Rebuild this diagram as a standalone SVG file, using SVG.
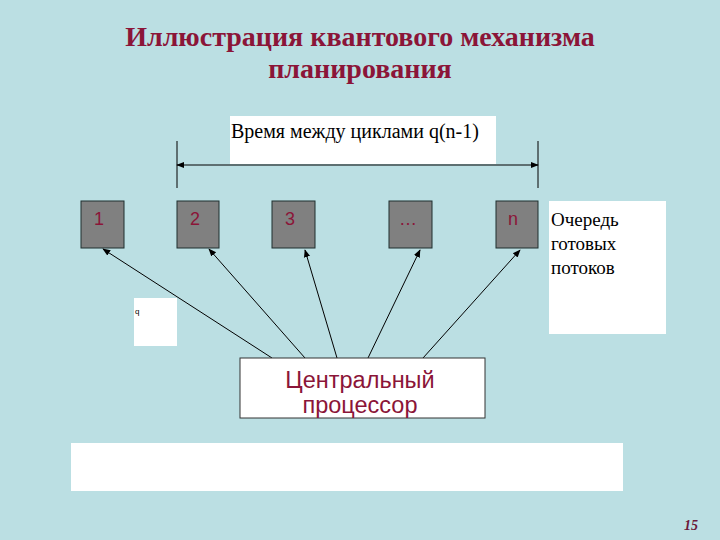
<svg xmlns="http://www.w3.org/2000/svg" width="720" height="540" viewBox="0 0 720 540">
<defs>
<marker id="ah" viewBox="0 0 10 10" refX="9" refY="5" markerWidth="8" markerHeight="8" markerUnits="userSpaceOnUse" orient="auto-start-reverse">
<path d="M0,1 L10,5 L0,9 z" fill="#000"/>
</marker>
<style>
.title{font-family:"Liberation Serif",serif;font-weight:bold;font-size:28px;fill:#8b1538;text-anchor:middle}
.q{fill:#808080;stroke:#1f2f2f;stroke-width:1}
.ql{font-family:"Liberation Sans",sans-serif;font-size:18px;fill:#8b1538}
.serif{font-family:"Liberation Serif",serif;font-size:19px;fill:#000}
.con{stroke:#000;stroke-width:1;fill:none;marker-end:url(#ah)}
.cpu{font-family:"Liberation Sans",sans-serif;font-size:23.5px;fill:#8b1538;text-anchor:middle}
</style>
</defs>
<rect width="720" height="540" fill="#bbdfe3"/>
<text class="title" x="360" y="46">Иллюстрация квантового механизма</text>
<text class="title" x="360" y="78">планирования</text>

<g id="time-label">
<rect x="230" y="116" width="266" height="48" fill="#fff"/>
<text class="serif" x="231" y="138" style="font-size:20px">Время между циклами q(n-1)</text>
</g>
<g id="time-span">
<line x1="177" y1="141" x2="177" y2="188" stroke="#000"/>
<line x1="538" y1="141" x2="538" y2="188" stroke="#000"/>
<line x1="177" y1="165" x2="538" y2="165" stroke="#000" marker-start="url(#ah)" marker-end="url(#ah)"/>
</g>

<g id="t1"><rect class="q" x="81" y="201" width="43" height="47"/><text class="ql" x="94" y="225">1</text></g>
<g id="t2"><rect class="q" x="177" y="201" width="42" height="47"/><text class="ql" x="190" y="225">2</text></g>
<g id="t3"><rect class="q" x="272" y="201" width="43" height="47"/><text class="ql" x="285" y="225">3</text></g>
<g id="tdots"><rect class="q" x="389" y="201" width="43" height="47"/><text class="ql" x="399" y="225">…</text></g>
<g id="tn"><rect class="q" x="496" y="201" width="42" height="47"/><text class="ql" x="508" y="225">n</text></g>

<g id="queue-label">
<rect x="549" y="201" width="117" height="133" fill="#fff"/>
<text class="serif" x="551" y="226">Очередь</text>
<text class="serif" x="551" y="250">готовых</text>
<text class="serif" x="551" y="274">потоков</text>
</g>

<g id="q-label">
<rect x="134" y="298" width="43" height="48" fill="#fff"/>
<text x="135" y="314" style="font-family:'Liberation Sans',sans-serif;font-size:8px">q</text>
</g>

<g id="connectors">
<line class="con" x1="272" y1="358" x2="103" y2="249"/>
<line class="con" x1="305" y1="358" x2="209" y2="249"/>
<line class="con" x1="337" y1="358" x2="305" y2="250"/>
<line class="con" x1="368" y1="358" x2="420" y2="250"/>
<line class="con" x1="423" y1="358" x2="520" y2="250"/>
</g>

<g id="cpu">
<rect x="240" y="358" width="245" height="60" fill="#fff" stroke="#333" stroke-width="1"/>
<text class="cpu" x="360" y="388">Центральный</text>
<text class="cpu" x="360" y="413">процессор</text>
</g>

<g id="bottom-box">
<rect x="71" y="443" width="552" height="48" fill="#fff"/>
</g>

<text x="698" y="530" text-anchor="end" style="font-family:'Liberation Serif',serif;font-weight:bold;font-style:italic;font-size:14px;fill:#6b1a3a">15</text>
</svg>
